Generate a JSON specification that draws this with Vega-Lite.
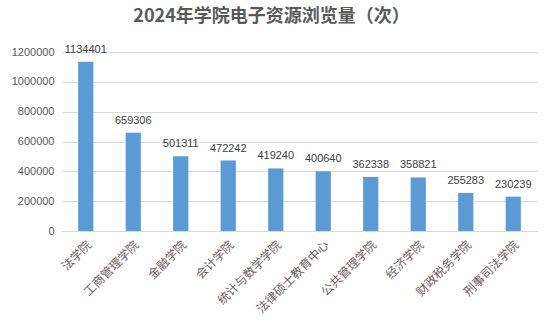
{
  "$schema": "https://vega.github.io/schema/vega-lite/v6.json",
  "autosize": {"type": "none"},
  "width": 475,
  "height": 179,
  "padding": {"left": 62, "top": 52, "right": 15, "bottom": 100},
  "background": "white",
  "title": {
    "text": "2024年学院电子资源浏览量（次）",
    "font": "Noto Sans CJK SC",
    "fontSize": 18,
    "fontWeight": "bold",
    "color": "#595959",
    "anchor": "middle",
    "dx": -28,
    "offset": 18
  },
  "data": {
    "values": [
      {"college": "法学院", "views": 1134401},
      {"college": "工商管理学院", "views": 659306},
      {"college": "金融学院", "views": 501311},
      {"college": "会计学院", "views": 472242},
      {"college": "统计与数学学院", "views": 419240},
      {"college": "法律硕士教育中心", "views": 400640},
      {"college": "公共管理学院", "views": 362338},
      {"college": "经济学院", "views": 358821},
      {"college": "财政税务学院", "views": 255283},
      {"college": "刑事司法学院", "views": 230239}
    ]
  },
  "encoding": {
    "x": {
      "field": "college",
      "type": "nominal",
      "sort": null,
      "scale": {"paddingInner": 0.68, "paddingOuter": 0.34},
      "axis": {
        "title": null,
        "labelAngle": -45,
        "labelFont": "Noto Sans CJK SC",
        "labelFontSize": 12,
        "labelColor": "#6b5b5b",
        "ticks": false,
        "domainColor": "#d9d9d9",
        "labelPadding": 8
      }
    },
    "y": {
      "field": "views",
      "type": "quantitative",
      "scale": {"domain": [0, 1200000]},
      "axis": {
        "title": null,
        "values": [0, 200000, 400000, 600000, 800000, 1000000, 1200000],
        "format": "d",
        "labelFont": "Liberation Sans",
        "labelFontSize": 11,
        "labelColor": "#595959",
        "domain": false,
        "ticks": false,
        "gridColor": "#d9d9d9",
        "labelPadding": 8
      }
    }
  },
  "layer": [
    {"mark": {"type": "bar", "color": "#5B9BD5"}},
    {
      "mark": {
        "type": "text",
        "baseline": "bottom",
        "dy": -7,
        "font": "Liberation Sans",
        "fontSize": 11,
        "color": "#404040"
      },
      "encoding": {"text": {"field": "views", "type": "quantitative", "format": "d"}}
    }
  ],
  "config": {"view": {"stroke": null}}
}
